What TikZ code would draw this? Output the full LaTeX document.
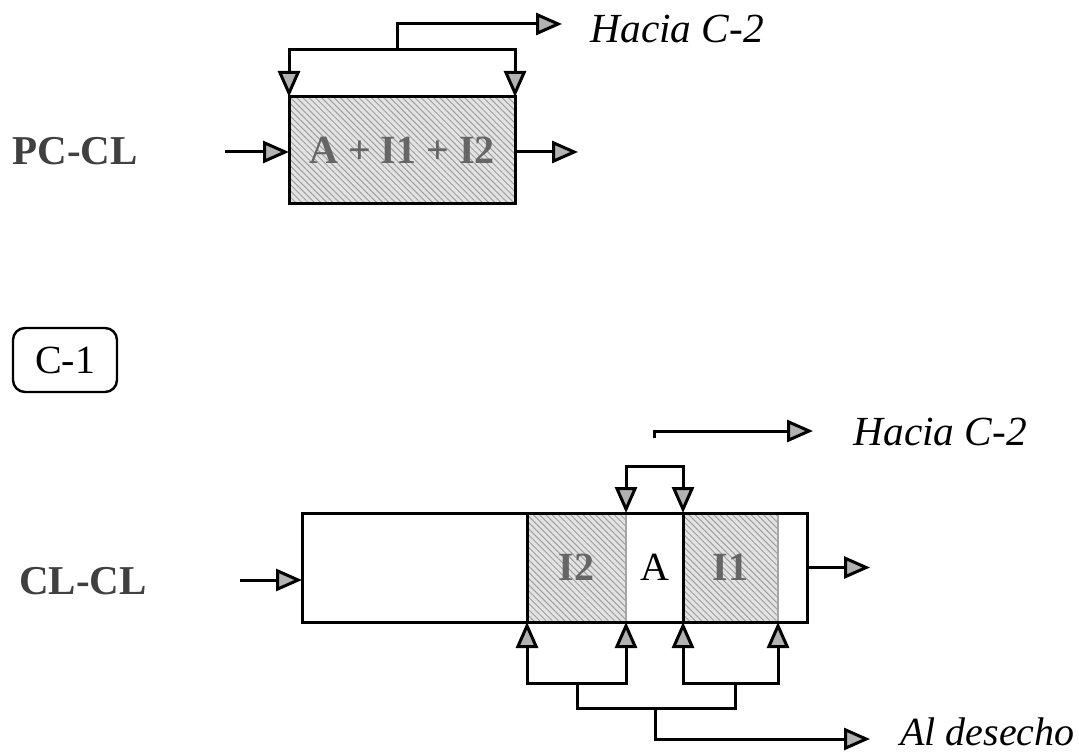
\documentclass[tikz,border=0pt]{standalone}
\usepackage{fontspec}
\setmainfont{Liberation Serif}
\usetikzlibrary{arrows.meta,patterns.meta}

\begin{document}
\begin{tikzpicture}[
  x=0.5pt,y=-0.5pt,
  pipe/.style={line width=1.5pt},
  flow/.style={pipe,-{Triangle[length=13pt,width=11pt,fill=gray!60]}},
  hatched/.style={draw=gray!70,line width=0.6pt,inner sep=0pt,outer sep=0pt,minimum height=54.5pt,
    preaction={fill=gray!22},pattern={Lines[angle=-45,distance=2.2pt,line width=0.5pt]},pattern color=gray!75},
  plain/.style={draw=gray!70,line width=0.6pt,inner sep=0pt,outer sep=0pt,minimum height=54.5pt},
  species/.style={font=\fontsize{20}{24}\selectfont\bfseries,text=black!60},
  mode/.style={font=\fontsize{20.5}{24}\selectfont\bfseries,text=black!75},
  dest/.style={font=\fontsize{20.7}{24}\selectfont\itshape,inner sep=0pt},
]
  \useasboundingbox (0,0) rectangle (1079,753);

  % PC-CL
  \node[mode] (pccl) at (75,151) {PC-CL};
  \node[hatched,draw=black,line width=1.5pt,minimum width=113pt,minimum height=53.5pt,species] (mix) at (402,150.5) {A + I1 + I2};
  \coordinate (pcin) at (225,152);
  \coordinate (pcout) at (578,152);
  \coordinate (tsplit) at (397,50);
  \coordinate (toC2a) at (562,24);
  \draw[flow] (pcin) -- (pcin -| mix.west);
  \draw[flow] (mix.east |- pcout) -- (pcout);
  \draw[flow] (tsplit) -| (mix.north west);
  \draw[flow] (tsplit) -| (mix.north east);
  \draw[flow] (tsplit) |- (toC2a);
  \node[dest,anchor=base west] (hacia1) at (590,43) {Hacia C-2};

  % C-1
  \node[draw,line width=1.2pt,rounded corners=6pt,minimum width=52pt,minimum height=32pt,
    font=\fontsize{20}{24}\selectfont] (c1) at (65,360) {C-1};

  % CL-CL
  \node[mode] (clcl) at (83,581) {CL-CL};
  \node[hatched,minimum width=49.5pt,species] (zI2) at (576.5,567.5) {I2};
  \node[plain,minimum width=28.5pt,font=\fontsize{20}{24}\selectfont] (zA) at (654.5,567.5) {A};
  \node[hatched,minimum width=47.5pt,species] (zI1) at (730.5,567.5) {I1};
  \node[draw,line width=1.5pt,minimum width=252.5pt,minimum height=54.5pt,inner sep=0pt,outer sep=0pt] (col) at (554.5,567.5) {};
  \draw[pipe] (zI2.north west) -- (zI2.south west);
  \draw[pipe] (zI1.north west) -- (zI1.south west);

  \coordinate (clin) at (240,580);
  \coordinate (clout) at (870,567.5);
  \draw[flow] (clin) -- (clin -| col.west);
  \draw[flow] (col.east) -- (clout);

  \coordinate (asplit) at (654,466);
  \draw[flow] (asplit) -| (zA.north west);
  \draw[flow] (asplit) -| (zA.north east);

  \coordinate (c2tick) at (654,438);
  \coordinate (c2end) at (813,431);
  \draw[flow] (c2tick) |- (c2end);
  \node[dest,anchor=base west] (hacia2) at (853,445) {Hacia C-2};

  \coordinate (lsplit) at (577,683);
  \coordinate (rsplit) at (735,683);
  \draw[flow] (lsplit) -| (zI2.south west);
  \draw[flow] (lsplit) -| (zI2.south east);
  \draw[flow] (rsplit) -| (zI1.south west);
  \draw[flow] (rsplit) -| (zI1.south east);
  \coordinate (wjoin) at (655,708);
  \coordinate (wend) at (870,739);
  \draw[pipe] (lsplit) |- (wjoin) -| (rsplit);
  \draw[flow] (wjoin) |- (wend);
  \node[dest,font=\fontsize{20}{24}\selectfont\itshape,anchor=base east] (waste) at (1075,745) {Al desecho};
\end{tikzpicture}
\end{document}
